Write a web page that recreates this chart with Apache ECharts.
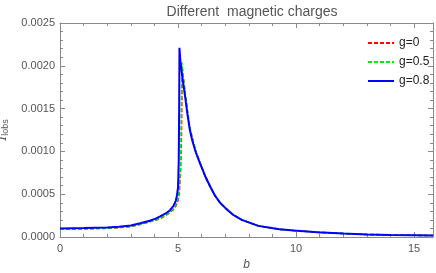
<!DOCTYPE html>
<html><head><meta charset="utf-8">
<script src="https://cdn.jsdelivr.net/npm/echarts@6/dist/echarts.min.js"></script>
<style>html,body{margin:0;padding:0;background:#fff}#c{width:436px;height:273px}</style>
</head><body><div id="c"></div>
<script>
const titleText = 'Different  magnetic charges';
const seriesNames = ['g=0', 'g=0.5', 'g=0.8'];
const bBlue = [0,1,2,2.5,3,3.4,3.8,4.05,4.24,4.5,4.65,4.8,4.9,4.95,5.0,5.03,5.05,5.06,5.1,5.2,5.3,5.4,5.5,5.6,5.75,5.93,6.15,6.36,6.55,6.78,7.0,7.33,7.7,8.05,8.4,8.76,9.3,9.9,10.9,12,13,14,15,15.8];
const vBlue = [0.0001,0.000104,0.00011,0.00012,0.000135,0.00016,0.00019,0.000215,0.00024,0.00028,0.00031,0.00036,0.00042,0.00048,0.00058,0.0009,0.0016,0.00221,0.00205,0.00183,0.00164,0.00143,0.00125,0.00113,0.00099,0.00086,0.00071,0.00059,0.00049,0.0004,0.00034,0.00026,0.0002,0.000165,0.00013,0.000114,0.00009,0.000076,0.000056,0.00004,0.00003,0.000024,0.00002,0.000017];
const bGreen = [0,1,2,2.5,3,3.4,3.8,4.05,4.24,4.5,4.65,4.8,4.9,5.0,5.05,5.1,5.13,5.15,5.16,5.2,5.3,5.4,5.5,5.6,5.75,5.93,6.15,6.36,6.55,6.78,7.0,7.33,7.7,8.05,8.4,8.76,9.3,9.9,10.9,12,13,14,15,15.8];
const vGreen = [0.000092,0.000097,0.000104,0.000113,0.000125,0.00015,0.00018,0.0002,0.00022,0.00026,0.00029,0.00033,0.00037,0.00045,0.00055,0.0008,0.0012,0.0017,0.00204,0.00192,0.00167,0.00146,0.00127,0.00115,0.001,0.00087,0.00071,0.00059,0.00049,0.0004,0.00034,0.00026,0.0002,0.000165,0.00013,0.000114,0.00009,0.000076,0.000056,0.00004,0.00003,0.000024,0.00002,0.000017];
const bRed = [0,1,2,2.5,3,3.4,3.8,4.05,4.24,4.5,4.65,4.8,4.9,5.0,5.05,5.1,5.14,5.16,5.17,5.2,5.3,5.4,5.5,5.6,5.75,5.93,6.15,6.36,6.55,6.78,7.0,7.33,7.7,8.05,8.4,8.76,9.3,9.9,10.9,12,13,14,15,15.8];
const vRed = [0.00009,0.000095,0.000102,0.00011,0.000122,0.000147,0.000177,0.000197,0.000215,0.000255,0.000285,0.00032,0.00036,0.00043,0.00052,0.00074,0.0011,0.0016,0.002,0.00192,0.00168,0.00147,0.00128,0.00116,0.001,0.00087,0.00071,0.00059,0.00049,0.0004,0.00034,0.00026,0.0002,0.000165,0.00013,0.000114,0.00009,0.000076,0.000056,0.00004,0.00003,0.000024,0.00002,0.000017];
const xTicks = {min:0, max:15.8, interval:5};
const yTicks = {min:0, max:0.0025, interval:0.0005};

const pair = (xs, ys) => xs.map((x, i) => [x, ys[i]]);
const axisColor = '#8a8a8a';
const labelColor = '#555';
const font = 'Liberation Sans';
const chart = echarts.init(document.getElementById('c'), null, {renderer:'canvas'});
const xCommon = {type:'value', min:xTicks.min, max:xTicks.max, interval:xTicks.interval,
  axisLine:{show:true, onZero:false, lineStyle:{color:axisColor, width:1}},
  axisTick:{show:true, inside:true, length:5, lineStyle:{color:axisColor}},
  minorTick:{show:true, splitNumber:5, length:3, lineStyle:{color:axisColor}},
  splitLine:{show:false}};
const yCommon = {type:'value', min:yTicks.min, max:yTicks.max, interval:yTicks.interval,
  axisLine:{show:true, onZero:false, lineStyle:{color:axisColor, width:1}},
  axisTick:{show:true, inside:true, length:5, lineStyle:{color:axisColor}},
  minorTick:{show:true, splitNumber:5, length:3, lineStyle:{color:axisColor}},
  splitLine:{show:false}};
const colors = ['#ff0000', '#00ee00', '#0000ff'];
chart.setOption({
  animation:false,
  title:{text:titleText, left:247, textAlign:'center', top:0,
    textStyle:{fontFamily:font, fontSize:14, fontWeight:'normal', color:'#555'}},
  grid:{left:60, right:3, top:23, bottom:36, containLabel:false, outerBoundsMode:'none'},
  legend:{orient:'vertical', left:362, top:32, itemWidth:26, itemHeight:12, itemGap:7,
    itemStyle:{opacity:0},
    textStyle:{fontFamily:font, fontSize:12, color:'#222'}, data:seriesNames},
  xAxis:[Object.assign({}, xCommon, {position:'bottom', name:'b', nameLocation:'middle', nameGap:22,
      nameTextStyle:{fontFamily:font, fontStyle:'italic', fontSize:12, color:labelColor},
      axisLabel:{fontFamily:font, fontSize:11, color:labelColor, margin:6, showMaxLabel:false}}),
    Object.assign({}, xCommon, {position:'top', axisLabel:{show:false}})],
  yAxis:[Object.assign({}, yCommon, {position:'left', name:'{a|I}{b|lobs}', nameLocation:'middle', nameGap:40, nameRotate:90,
      nameTextStyle:{color:labelColor, rich:{a:{fontFamily:'DejaVu Serif', fontStyle:'italic', fontSize:13, color:labelColor},
        b:{fontFamily:font, fontSize:9, color:labelColor, padding:[6,0,0,0]}}},
      axisLabel:{fontFamily:font, fontSize:11, color:labelColor, margin:5, formatter:v => v.toFixed(4)}}),
    Object.assign({}, yCommon, {position:'right', axisLabel:{show:false}})],
  series:[
    {name:seriesNames[0], type:'line', data:pair(bRed, vRed), showSymbol:false, symbol:'none', smooth:false,
      lineStyle:{color:colors[0], width:1.6, type:[4,2]}, itemStyle:{color:colors[0]}},
    {name:seriesNames[1], type:'line', data:pair(bGreen, vGreen), showSymbol:false, symbol:'none',
      lineStyle:{color:colors[1], width:1.6, type:[4,2]}, itemStyle:{color:colors[1]}},
    {name:seriesNames[2], type:'line', data:pair(bBlue, vBlue), showSymbol:false, symbol:'none',
      lineStyle:{color:colors[2], width:2}, itemStyle:{color:colors[2]}}
  ]
});
</script></body></html>
